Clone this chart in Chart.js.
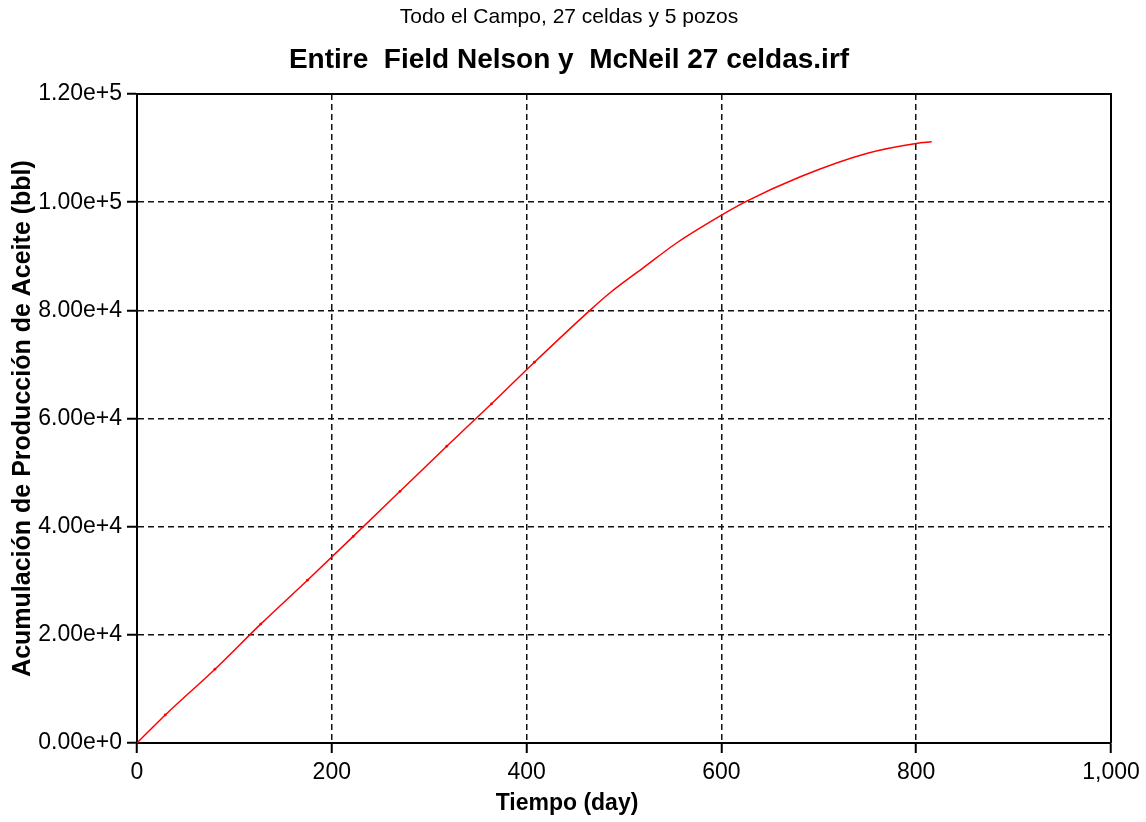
<!DOCTYPE html>
<html>
<head>
<meta charset="utf-8">
<script src="https://cdn.jsdelivr.net/npm/chart.js@4.4.1/dist/chart.umd.min.js"></script>
<style>
  html, body { margin: 0; padding: 0; background: #ffffff; }
  #wrap { width: 1146px; height: 822px; }
</style>
</head>
<body>
<div id="wrap"><canvas id="grafico" width="1146" height="822"></canvas></div>
<script>
// Tiempo de simulación (días) y acumulación de aceite (bbl)
const dias = [0, 29, 80, 127, 175, 222, 270, 318, 364, 408, 465, 486, 520, 554, 588, 624, 681, 749, 800, 816];
const acumulado = [0, 5190, 13650, 21980, 30100, 38200, 46540, 54870, 62720, 70400, 80000, 83300, 87900, 92450, 96300, 100000, 104700, 109000, 110850, 111150];

// Marcas de los ejes
const ticksX = [0, 200, 400, 600, 800, 1000];
const ticksY = [0, 20000, 40000, 60000, 80000, 100000, 120000];

const tituloSuperior = 'Todo el Campo, 27 celdas y 5 pozos';
const tituloPrincipal = 'Entire  Field Nelson y  McNeil 27 celdas.irf';
const tituloEjeX = 'Tiempo (day)';
const tituloEjeY = 'Acumulación de Producción de Aceite (bbl)';

const FUENTE = "'Liberation Sans', Arial, sans-serif";
const CENTRO_TEXTO = 569;

// Marco superior/derecho del área de trazado, títulos y título del eje X
const marcoPlugin = {
  id: 'marco',
  beforeDatasetsDraw(chart) {
    const { ctx, chartArea: a } = chart;
    ctx.save();
    ctx.strokeStyle = '#000';
    ctx.lineWidth = 2;
    ctx.beginPath();
    ctx.moveTo(a.left, a.top);
    ctx.lineTo(a.right, a.top);
    ctx.lineTo(a.right, a.bottom);
    ctx.stroke();
    ctx.restore();
  },
  afterDraw(chart) {
    const { ctx } = chart;
    ctx.save();
    ctx.fillStyle = '#000';
    ctx.textAlign = 'center';
    ctx.textBaseline = 'middle';
    ctx.font = "21px " + FUENTE;
    ctx.fillText(tituloSuperior, CENTRO_TEXTO, 17);
    ctx.font = "bold 28px " + FUENTE;
    ctx.fillText(tituloPrincipal, CENTRO_TEXTO, 60);
    ctx.font = "bold 23px " + FUENTE;
    ctx.fillText(tituloEjeX, 567, 804);
    ctx.restore();
  }
};

new Chart(document.getElementById('grafico'), {
  type: 'line',
  data: {
    datasets: [{
      data: dias.map((d, i) => ({ x: d, y: acumulado[i] })),
      borderColor: '#ff0000',
      backgroundColor: '#ff0000',
      borderWidth: 1.5,
      pointRadius: c => (c.raw && c.raw.x > 0 && c.raw.x <= 410) ? 1.4 : 0,
      pointBorderWidth: 0,
      cubicInterpolationMode: 'monotone',
      fill: false
    }]
  },
  options: {
    responsive: false,
    animation: false,
    devicePixelRatio: 1,
    layout: { padding: { left: 0, right: 35, top: 94, bottom: 0 } },
    plugins: {
      legend: { display: false },
      tooltip: { enabled: false },
      title: { display: false },
      subtitle: { display: false }
    },
    scales: {
      x: {
        type: 'linear',
        min: 0,
        max: 1000,
        afterBuildTicks(scale) { scale.ticks = ticksX.map(v => ({ value: v })); },
        afterFit(scale) { scale.height = 79; },
        ticks: {
          color: '#000',
          font: { family: FUENTE, size: 23 },
          padding: 6,
          maxRotation: 0,
          callback: v => v.toLocaleString('en-US')
        },
        grid: {
          color: '#111',
          lineWidth: 1.5,
          tickLength: 10,
          tickColor: '#000',
          tickWidth: 2,
          tickBorderDash: []
        },
        border: { display: true, color: '#000', width: 2, dash: [6, 4] }
      },
      y: {
        type: 'linear',
        min: 0,
        max: 120000,
        afterBuildTicks(scale) { scale.ticks = ticksY.map(v => ({ value: v })); },
        afterFit(scale) { scale.width = 137; },
        ticks: {
          color: '#000',
          font: { family: FUENTE, size: 23 },
          padding: 5,
          callback: v => Number(v).toExponential(2)
        },
        grid: {
          color: '#111',
          lineWidth: 1.5,
          tickLength: 10,
          tickColor: '#000',
          tickWidth: 2,
          tickBorderDash: []
        },
        border: { display: true, color: '#000', width: 2, dash: [6, 4] },
        title: {
          display: true,
          text: tituloEjeY,
          color: '#000',
          font: { family: FUENTE, size: 25, weight: 'bold' },
          padding: { top: 8, bottom: 0 }
        }
      }
    }
  },
  plugins: [marcoPlugin]
});
</script>
</body>
</html>
